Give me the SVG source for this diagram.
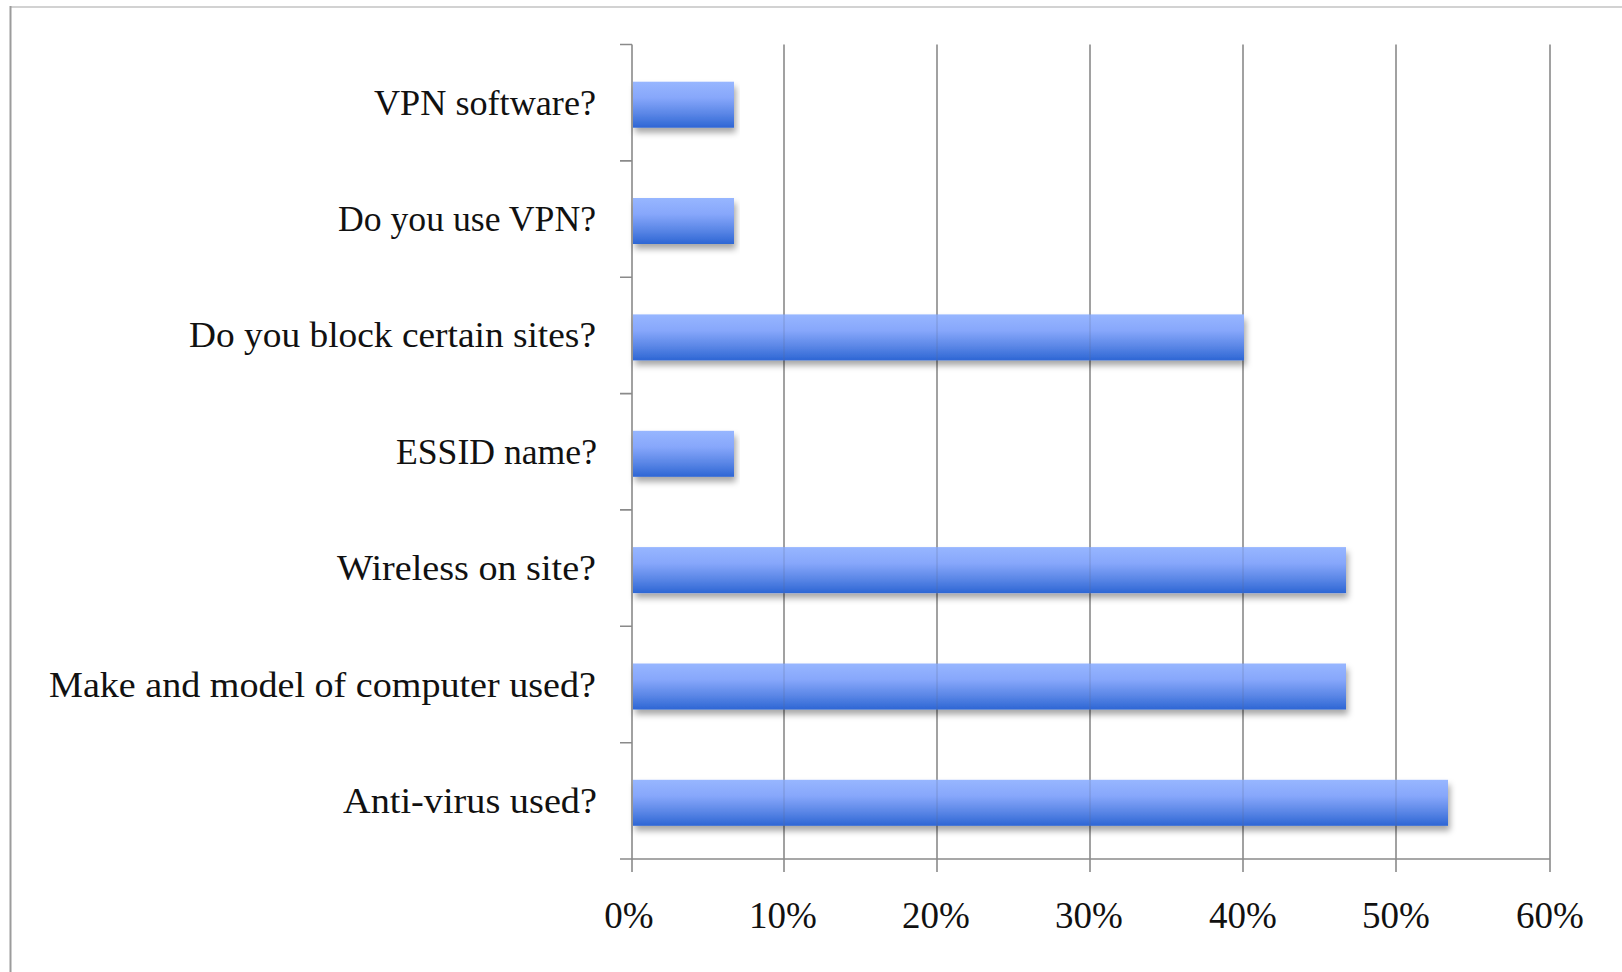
<svg xmlns="http://www.w3.org/2000/svg" width="1622" height="972" viewBox="0 0 1622 972">
  <style>
    .lbl { font-family: "Liberation Serif", "Times New Roman", serif; font-size: 36px; fill: #111; text-anchor: end; }
    .xl { font-family: "Liberation Serif", "Times New Roman", serif; font-size: 37px; fill: #111; text-anchor: middle; }
    .grid { stroke: #8a8a8a; stroke-width: 1.6; fill: none; }
    .gridover { stroke: #5a6a90; stroke-width: 1.4; stroke-opacity: 0.25; fill: none; }
    .bar { fill: url(#barGrad); filter: url(#shadow); }
  </style>
  <defs>
    <linearGradient id="barGrad" x1="0" y1="0" x2="0" y2="1">
      <stop offset="0" stop-color="#97b6ff"/>
      <stop offset="0.35" stop-color="#87a7fb"/>
      <stop offset="0.7" stop-color="#5a86e6"/>
      <stop offset="1" stop-color="#2d66d4"/>
    </linearGradient>
    <filter id="shadow" x="-5%" y="-20%" width="110%" height="160%">
      <feDropShadow dx="2" dy="5" stdDeviation="3" flood-color="#000" flood-opacity="0.35"/>
    </filter>
  </defs>
  <rect x="0" y="0" width="1622" height="972" fill="#ffffff"/>
  <line x1="10" y1="7" x2="1622" y2="7" stroke="#d2d2d2" stroke-width="2"/>
  <line x1="10.5" y1="6" x2="10.5" y2="972" stroke="#9c9c9c" stroke-width="2"/>

  <g id="axes">
    <path class="grid" d="M784 44.5V872 M937 44.5V872 M1090 44.5V872 M1243 44.5V872 M1396 44.5V872 M1550 44.5V872"/>
    <path class="grid" d="M632 44.5V872 M620 859H1550"/>
    <path class="grid" d="M620 44.5H632 M620 160.9H632 M620 277.2H632 M620 393.6H632 M620 509.9H632 M620 626.3H632 M620 742.7H632"/>
    <text class="xl" x="629" y="928">0%</text>
    <text class="xl" x="783" y="928">10%</text>
    <text class="xl" x="936" y="928">20%</text>
    <text class="xl" x="1089" y="928">30%</text>
    <text class="xl" x="1243" y="928">40%</text>
    <text class="xl" x="1396" y="928">50%</text>
    <text class="xl" x="1550" y="928">60%</text>
  </g>

  <g id="bar-vpn-software">
    <rect class="bar" x="633" y="81.7" width="101" height="46"/>
    <text class="lbl" x="596" y="114.5" textLength="222" lengthAdjust="spacingAndGlyphs">VPN software?</text>
  </g>
  <g id="bar-use-vpn">
    <rect class="bar" x="633" y="198" width="101" height="46"/>
    <text class="lbl" x="596" y="231" textLength="258" lengthAdjust="spacingAndGlyphs">Do you use VPN?</text>
  </g>
  <g id="bar-block-sites">
    <rect class="bar" x="633" y="314.4" width="611" height="46"/>
    <text class="lbl" x="596" y="347.4" textLength="407" lengthAdjust="spacingAndGlyphs">Do you block certain sites?</text>
  </g>
  <g id="bar-essid">
    <rect class="bar" x="633" y="430.8" width="101" height="46"/>
    <text class="lbl" x="597" y="463.8" textLength="201" lengthAdjust="spacingAndGlyphs">ESSID name?</text>
  </g>
  <g id="bar-wireless">
    <rect class="bar" x="633" y="547.1" width="713" height="46"/>
    <text class="lbl" x="596" y="580.1" textLength="259" lengthAdjust="spacingAndGlyphs">Wireless on site?</text>
  </g>
  <g id="bar-make-model">
    <rect class="bar" x="633" y="663.5" width="713" height="46"/>
    <text class="lbl" x="596" y="696.5" textLength="547" lengthAdjust="spacingAndGlyphs">Make and model of computer used?</text>
  </g>
  <g id="bar-antivirus">
    <rect class="bar" x="633" y="779.8" width="815" height="46"/>
    <text class="lbl" x="597" y="812.8" textLength="254" lengthAdjust="spacingAndGlyphs">Anti-virus used?</text>
  </g>

  <g id="grid-overlay">
    <path class="gridover" d="M784 314V361 M937 314V361 M1090 314V361 M784 547V594 M937 547V594 M1090 547V594 M1243 547V594 M784 663V710 M937 663V710 M1090 663V710 M1243 663V710 M784 780V826 M937 780V826 M1090 780V826 M1243 780V826 M1396 780V826"/>
  </g>
</svg>
